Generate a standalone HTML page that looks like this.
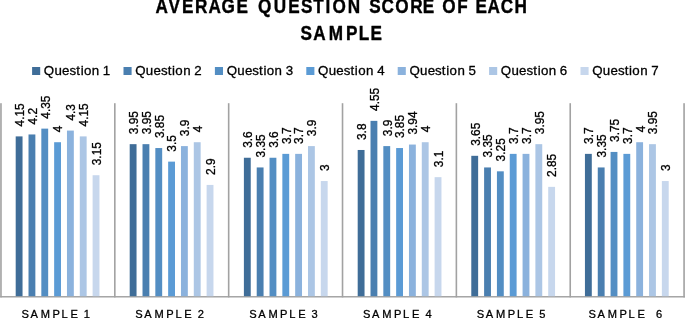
<!DOCTYPE html>
<html lang="en"><head><meta charset="utf-8"><title>Average Question Score of Each Sample</title>
<style>html,body{margin:0;padding:0;background:#fff;}body{width:685px;height:318px;overflow:hidden;}svg{display:block;}text{font-family:"Liberation Sans", sans-serif;fill:#000;}</style></head><body>
<svg width="685" height="318" viewBox="0 0 685 318">
<rect x="0" y="0" width="685" height="318" fill="#fff"/>
<g font-weight="bold" font-size="19.5" stroke="#000" stroke-width="0.4" stroke-linejoin="round">
<text transform="translate(0,13.45) scale(0.88,1)" x="176.84 191.61 206.86 221.58 236.86 251.79 268.74 281.74 293.11 311.11 327.60 341.93 355.94 369.94 377.72 395.24 409.32 419.73 433.45 449.08 466.07 480.50 493.50 502.54 519.54 531.46 540.21 554.00 568.98 584.78">AVERAGE QUESTION SCORE OF EACH</text>
<text transform="translate(0,39.65) scale(0.88,1)" x="341.55 356.02 373.65 393.17 407.81 420.95">SAMPLE</text>
</g>
<g font-size="13.3" stroke="#000" stroke-width="0.3">
<rect x="32.10" y="67.0" width="8.1" height="8.0" fill="#3F6D98" stroke="none"/>
<text transform="translate(0,75.1) scale(1,1)" x="43.83 54.45 62.12 69.51 76.27 80.65 83.97 91.79 99.19 102.72">Question 1</text>
<rect x="123.50" y="67.0" width="8.1" height="8.0" fill="#4A7FB0" stroke="none"/>
<text transform="translate(0,75.1) scale(1,1)" x="135.23 145.85 153.52 160.91 167.67 172.05 175.37 183.19 190.59 194.30">Question 2</text>
<rect x="214.90" y="67.0" width="8.1" height="8.0" fill="#538EC3" stroke="none"/>
<text transform="translate(0,75.1) scale(1,1)" x="226.63 237.25 244.92 252.31 259.07 263.45 266.77 274.59 281.99 285.74">Question 3</text>
<rect x="306.30" y="67.0" width="8.1" height="8.0" fill="#5B9BD5" stroke="none"/>
<text transform="translate(0,75.1) scale(1,1)" x="318.03 328.65 336.32 343.71 350.47 354.85 358.17 365.99 373.39 377.14">Question 4</text>
<rect x="397.70" y="67.0" width="8.1" height="8.0" fill="#8BB2DD" stroke="none"/>
<text transform="translate(0,75.1) scale(1,1)" x="409.43 420.05 427.72 435.11 441.87 446.25 449.57 457.39 464.79 468.51">Question 5</text>
<rect x="489.10" y="67.0" width="8.1" height="8.0" fill="#ACC6E5" stroke="none"/>
<text transform="translate(0,75.1) scale(1,1)" x="500.83 511.45 519.12 526.51 533.27 537.65 540.97 548.79 556.19 559.86">Question 6</text>
<rect x="580.50" y="67.0" width="8.1" height="8.0" fill="#C7D7ED" stroke="none"/>
<text transform="translate(0,75.1) scale(1,1)" x="592.23 602.85 610.52 617.91 624.67 629.05 632.37 640.19 647.59 651.30">Question 7</text>
</g>
<g fill="#A2A2A2">
<rect x="0.17" y="103.20" width="1.60" height="194.20"/>
<rect x="114.02" y="103.20" width="1.60" height="194.20"/>
<rect x="227.87" y="103.20" width="1.60" height="194.20"/>
<rect x="341.72" y="103.20" width="1.60" height="194.20"/>
<rect x="455.57" y="103.20" width="1.60" height="194.20"/>
<rect x="569.42" y="103.20" width="1.60" height="194.20"/>
<rect x="683.27" y="103.20" width="1.60" height="194.20"/>
<rect x="0.2" y="296.05" width="684.8" height="1.45"/>
</g>
<rect x="15.69" y="136.40" width="6.85" height="159.80" fill="#3F6D98"/>
<rect x="28.51" y="134.46" width="6.85" height="161.74" fill="#4A7FB0"/>
<rect x="41.33" y="128.63" width="6.85" height="167.57" fill="#538EC3"/>
<rect x="54.15" y="142.22" width="6.85" height="153.98" fill="#5B9BD5"/>
<rect x="66.97" y="130.57" width="6.85" height="165.63" fill="#8BB2DD"/>
<rect x="79.79" y="136.40" width="6.85" height="159.80" fill="#ACC6E5"/>
<rect x="92.61" y="175.22" width="6.85" height="120.98" fill="#C7D7ED"/>
<rect x="129.69" y="144.16" width="6.85" height="152.04" fill="#3F6D98"/>
<rect x="142.51" y="144.16" width="6.85" height="152.04" fill="#4A7FB0"/>
<rect x="155.33" y="148.04" width="6.85" height="148.16" fill="#538EC3"/>
<rect x="168.15" y="161.63" width="6.85" height="134.57" fill="#5B9BD5"/>
<rect x="180.97" y="146.10" width="6.85" height="150.10" fill="#8BB2DD"/>
<rect x="193.79" y="142.22" width="6.85" height="153.98" fill="#ACC6E5"/>
<rect x="206.61" y="184.92" width="6.85" height="111.28" fill="#C7D7ED"/>
<rect x="243.89" y="157.75" width="6.85" height="138.45" fill="#3F6D98"/>
<rect x="256.71" y="167.45" width="6.85" height="128.75" fill="#4A7FB0"/>
<rect x="269.53" y="157.75" width="6.85" height="138.45" fill="#538EC3"/>
<rect x="282.35" y="153.87" width="6.85" height="142.33" fill="#5B9BD5"/>
<rect x="295.17" y="153.87" width="6.85" height="142.33" fill="#8BB2DD"/>
<rect x="307.99" y="146.10" width="6.85" height="150.10" fill="#ACC6E5"/>
<rect x="320.81" y="181.04" width="6.85" height="115.16" fill="#C7D7ED"/>
<rect x="357.69" y="149.98" width="6.85" height="146.22" fill="#3F6D98"/>
<rect x="370.51" y="120.87" width="6.85" height="175.33" fill="#4A7FB0"/>
<rect x="383.33" y="146.10" width="6.85" height="150.10" fill="#538EC3"/>
<rect x="396.15" y="148.04" width="6.85" height="148.16" fill="#5B9BD5"/>
<rect x="408.97" y="144.55" width="6.85" height="151.65" fill="#8BB2DD"/>
<rect x="421.79" y="142.22" width="6.85" height="153.98" fill="#ACC6E5"/>
<rect x="434.61" y="177.16" width="6.85" height="119.04" fill="#C7D7ED"/>
<rect x="471.29" y="155.81" width="6.85" height="140.39" fill="#3F6D98"/>
<rect x="484.11" y="167.45" width="6.85" height="128.75" fill="#4A7FB0"/>
<rect x="496.93" y="171.33" width="6.85" height="124.87" fill="#538EC3"/>
<rect x="509.75" y="153.87" width="6.85" height="142.33" fill="#5B9BD5"/>
<rect x="522.57" y="153.87" width="6.85" height="142.33" fill="#8BB2DD"/>
<rect x="535.39" y="144.16" width="6.85" height="152.04" fill="#ACC6E5"/>
<rect x="548.21" y="186.86" width="6.85" height="109.34" fill="#C7D7ED"/>
<rect x="584.94" y="153.87" width="6.85" height="142.33" fill="#3F6D98"/>
<rect x="597.76" y="167.45" width="6.85" height="128.75" fill="#4A7FB0"/>
<rect x="610.58" y="151.93" width="6.85" height="144.27" fill="#538EC3"/>
<rect x="623.40" y="153.87" width="6.85" height="142.33" fill="#5B9BD5"/>
<rect x="636.22" y="142.22" width="6.85" height="153.98" fill="#8BB2DD"/>
<rect x="649.04" y="144.16" width="6.85" height="152.04" fill="#ACC6E5"/>
<rect x="661.86" y="181.04" width="6.85" height="115.16" fill="#C7D7ED"/>
<g font-size="11.9" stroke="#000" stroke-width="0.3">
<text transform="translate(23.97,126.45) rotate(-90)">4.15</text>
<text transform="translate(36.79,124.51) rotate(-90)">4.2</text>
<text transform="translate(49.60,118.68) rotate(-90)">4.35</text>
<text transform="translate(62.43,132.27) rotate(-90)">4</text>
<text transform="translate(75.24,120.62) rotate(-90)">4.3</text>
<text transform="translate(88.06,126.45) rotate(-90)">4.15</text>
<text transform="translate(100.88,165.27) rotate(-90)">3.15</text>
<text transform="translate(137.97,134.21) rotate(-90)">3.95</text>
<text transform="translate(150.78,134.21) rotate(-90)">3.95</text>
<text transform="translate(163.61,138.09) rotate(-90)">3.85</text>
<text transform="translate(176.43,151.68) rotate(-90)">3.5</text>
<text transform="translate(189.25,136.15) rotate(-90)">3.9</text>
<text transform="translate(202.06,132.27) rotate(-90)">4</text>
<text transform="translate(214.88,174.97) rotate(-90)">2.9</text>
<text transform="translate(252.16,147.80) rotate(-90)">3.6</text>
<text transform="translate(264.99,157.50) rotate(-90)">3.35</text>
<text transform="translate(277.81,147.80) rotate(-90)">3.6</text>
<text transform="translate(290.62,143.92) rotate(-90)">3.7</text>
<text transform="translate(303.44,143.92) rotate(-90)">3.7</text>
<text transform="translate(316.27,136.15) rotate(-90)">3.9</text>
<text transform="translate(329.09,171.09) rotate(-90)">3</text>
<text transform="translate(365.97,140.03) rotate(-90)">3.8</text>
<text transform="translate(378.79,110.92) rotate(-90)">4.55</text>
<text transform="translate(391.61,136.15) rotate(-90)">3.9</text>
<text transform="translate(404.43,138.09) rotate(-90)">3.85</text>
<text transform="translate(417.25,134.60) rotate(-90)">3.94</text>
<text transform="translate(430.07,132.27) rotate(-90)">4</text>
<text transform="translate(442.89,167.21) rotate(-90)">3.1</text>
<text transform="translate(479.57,145.86) rotate(-90)">3.65</text>
<text transform="translate(492.39,157.50) rotate(-90)">3.35</text>
<text transform="translate(505.21,161.38) rotate(-90)">3.25</text>
<text transform="translate(518.02,143.92) rotate(-90)">3.7</text>
<text transform="translate(530.85,143.92) rotate(-90)">3.7</text>
<text transform="translate(543.67,134.21) rotate(-90)">3.95</text>
<text transform="translate(556.49,176.91) rotate(-90)">2.85</text>
<text transform="translate(593.22,143.92) rotate(-90)">3.7</text>
<text transform="translate(606.04,157.50) rotate(-90)">3.35</text>
<text transform="translate(618.86,141.98) rotate(-90)">3.75</text>
<text transform="translate(631.68,143.92) rotate(-90)">3.7</text>
<text transform="translate(644.50,132.27) rotate(-90)">4</text>
<text transform="translate(657.32,134.21) rotate(-90)">3.95</text>
<text transform="translate(670.13,171.09) rotate(-90)">3</text>
</g>
<g font-size="11.7" stroke="#000" stroke-width="0.3">
<text transform="translate(0,317.6) scale(0.95,1)" x="22.68 32.11 42.86 55.19 64.81 74.19 81.99 88.17">SAMPLE 1</text>
<text transform="translate(0,317.6) scale(0.95,1)" x="142.50 151.93 162.69 175.01 184.63 194.01 201.81 208.15">SAMPLE 2</text>
<text transform="translate(0,317.6) scale(0.95,1)" x="262.32 271.75 282.51 294.83 304.45 313.83 321.63 328.00">SAMPLE 3</text>
<text transform="translate(0,317.6) scale(0.95,1)" x="382.14 391.57 402.33 414.65 424.27 433.65 441.45 447.83">SAMPLE 4</text>
<text transform="translate(0,317.6) scale(0.95,1)" x="501.96 511.39 522.15 534.47 544.09 553.47 561.27 567.62">SAMPLE 5</text>
<text transform="translate(0,317.6) scale(0.95,1)" x="619.52 628.95 639.71 652.03 661.65 671.03 678.83 682.08 690.50">SAMPLE  6</text>
</g>
</svg></body></html>
